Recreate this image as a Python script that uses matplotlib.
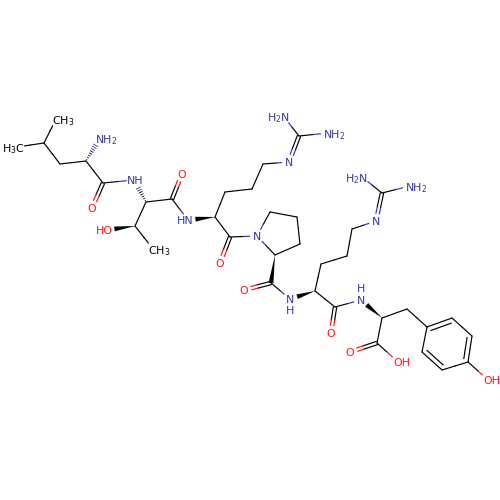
import matplotlib
matplotlib.use('Agg')
import matplotlib.pyplot as plt
import numpy as np

BLUE = '#3535a8'
RED = '#ff1010'

# atom positions in pixels
atoms = {
    'me1': (56, 119), 'me2': (17, 147), 'cg_l': (44, 143), 'cb_l': (60, 164),
    'ca_l': (86, 161), 'n_l': (100, 138), 'c_l': (103, 183), 'o_l': (92, 208),
    'n_t': (134, 180), 'ca_t': (146, 202), 'cb_t': (135, 226), 'o_t': (107, 230),
    'me3': (153, 249), 'c_t': (172, 199), 'o_t2': (182, 174),
    'n_r1': (188, 220), 'ca_r1': (215, 217), 'cb_r1': (225, 192), 'cg_r1': (252, 189),
    'cd_r1': (263, 164), 'ne_r1': (289, 162), 'cz_r1': (299, 136),
    'nh1_r1': (284, 117), 'nh2_r1': (328, 133), 'c_r1': (230, 237), 'o_r1': (220, 263),
    'n_p': (257, 236), 'cd_p': (270, 212), 'cg_p': (297, 217), 'cb_p': (300, 244),
    'ca_p': (275, 255), 'c_p': (271, 283), 'o_p': (244, 290),
    'n_r2': (290, 299), 'ca_r2': (315, 291), 'cb_r2': (321, 264), 'cg_r2': (347, 256),
    'cd_r2': (352, 229), 'ne_r2': (376, 221), 'cz_r2': (382, 193),
    'nh1_r2': (362, 177), 'nh2_r2': (410, 186), 'c_r2': (335, 307), 'o_r2': (331, 333),
    'n_y': (361, 300), 'ca_y': (382, 318), 'c_y': (377, 343), 'o_y': (350, 352),
    'oh_y': (398, 362), 'cb_y': (407, 309), 'r1': (427, 327), 'r2': (452, 318),
    'r3': (472, 336), 'r4': (468, 362), 'r5': (442, 370), 'r6': (422, 352),
    'oh_r': (488, 380),
}

single_bonds = [
    ('cg_l', 'me1'), ('cg_l', 'me2'), ('cg_l', 'cb_l'), ('cb_l', 'ca_l'), ('ca_l', 'c_l'),
    ('c_l', 'n_t'), ('ca_t', 'cb_t'), ('cb_t', 'me3'), ('ca_t', 'c_t'), ('c_t', 'n_r1'),
    ('ca_r1', 'cb_r1'), ('cb_r1', 'cg_r1'), ('cg_r1', 'cd_r1'), ('cd_r1', 'ne_r1'),
    ('cz_r1', 'nh1_r1'), ('cz_r1', 'nh2_r1'), ('ca_r1', 'c_r1'), ('c_r1', 'n_p'),
    ('n_p', 'cd_p'), ('cd_p', 'cg_p'), ('cg_p', 'cb_p'), ('cb_p', 'ca_p'), ('ca_p', 'n_p'),
    ('c_p', 'n_r2'), ('ca_r2', 'cb_r2'), ('cb_r2', 'cg_r2'), ('cg_r2', 'cd_r2'),
    ('cd_r2', 'ne_r2'), ('cz_r2', 'nh1_r2'), ('cz_r2', 'nh2_r2'), ('ca_r2', 'c_r2'),
    ('c_r2', 'n_y'), ('ca_y', 'c_y'), ('c_y', 'oh_y'), ('ca_y', 'cb_y'), ('cb_y', 'r1'),
    ('r2', 'r3'), ('r4', 'r5'), ('r6', 'r1'), ('r4', 'oh_r'),
]
double_bonds = [
    ('c_l', 'o_l'), ('c_t', 'o_t2'), ('c_r1', 'o_r1'), ('c_p', 'o_p'), ('c_r2', 'o_r2'),
    ('c_y', 'o_y'), ('ne_r1', 'cz_r1'), ('ne_r2', 'cz_r2'),
]
ring_doubles = [('r1', 'r2'), ('r3', 'r4'), ('r5', 'r6')]
wedges = [
    ('cb_t', 'o_t'), ('ca_r1', 'n_r1'), ('ca_p', 'c_p'), ('ca_r2', 'n_r2'), ('ca_y', 'n_y'),
]
hashes = [('ca_l', 'n_l'), ('ca_t', 'n_t')]

# text, x, y, horizontal alignment, colour
labels = [
    ('CH$_3$', 52, 119, 'left', 'black'), ('H$_3$C', 2, 147, 'left', 'black'),
    ('NH$_2$', 95, 138, 'left', BLUE), ('O', 92, 208, 'center', RED),
    ('NH', 127, 180, 'left', BLUE), ('HO', 96, 230, 'left', RED),
    ('CH$_3$', 148, 249, 'left', 'black'), ('O', 182, 174, 'center', RED),
    ('HN', 177, 220, 'left', BLUE), ('H$_2$N', 267, 116, 'left', BLUE),
    ('NH$_2$', 323, 133, 'left', BLUE), ('N', 289, 162, 'center', BLUE),
    ('O', 220, 263, 'center', RED), ('N', 257, 236, 'center', BLUE),
    ('O', 244, 290, 'center', RED), ('N', 290, 299, 'center', BLUE),
    ('H', 290, 310, 'center', BLUE), ('H$_2$N', 345, 177, 'left', BLUE),
    ('NH$_2$', 405, 186, 'left', BLUE), ('N', 376, 221, 'center', BLUE),
    ('O', 331, 333, 'center', RED), ('N', 361, 300, 'center', BLUE),
    ('H', 361, 288, 'center', BLUE), ('O', 350, 352, 'center', RED),
    ('OH', 393, 362, 'left', RED), ('OH', 483, 380, 'left', RED),
]


def atom_color(name):
    if name.startswith(('n_', 'ne_', 'nh')):
        return BLUE
    if name.startswith('o'):
        return RED
    return 'black'


def has_label(name):
    return atom_color(name) != 'black' or name.startswith('me')


def ends(a, b):
    # shorten the bond where an atom has a text label
    p = np.array(atoms[a], float)
    q = np.array(atoms[b], float)
    d = (q - p) / np.linalg.norm(q - p)
    start = p + d * 7.5 if has_label(a) else p
    stop = q - d * 7.5 if has_label(b) else q
    return p, q, start, stop, d


def draw_bond(ax, a, b, offset=0.0):
    p, q, start, stop, d = ends(a, b)
    n = np.array([-d[1], d[0]]) * offset
    mid = (p + q) / 2
    for s, e, col in [(start, mid, atom_color(a)), (mid, stop, atom_color(b))]:
        ax.plot([s[0] + n[0], e[0] + n[0]], [s[1] + n[1], e[1] + n[1]], color=col,
                lw=0.85, solid_capstyle='round')


def main():
    fig = plt.figure(figsize=(5, 5), dpi=100)
    ax = fig.add_axes([0, 0, 1, 1])
    ax.set_xlim(0, 500)
    ax.set_ylim(500, 0)
    ax.axis('off')

    for a, b in single_bonds:
        draw_bond(ax, a, b)
    for a, b in double_bonds:
        draw_bond(ax, a, b, 1.7)
        draw_bond(ax, a, b, -1.7)

    center = np.mean([atoms[k] for k in ['r1', 'r2', 'r3', 'r4', 'r5', 'r6']], axis=0)
    for a, b in ring_doubles:
        draw_bond(ax, a, b)
        p = np.array(atoms[a], float)
        q = np.array(atoms[b], float)
        # inner line, pulled towards the middle of the ring
        p2 = p + (center - p) * 0.2
        q2 = q + (center - q) * 0.2
        ax.plot([p2[0], q2[0]], [p2[1], q2[1]], color='black', lw=0.85)

    for a, b in wedges:
        p, q, start, stop, d = ends(a, b)
        n = np.array([-d[1], d[0]]) * 2.4
        ax.fill([p[0], stop[0] + n[0], stop[0] - n[0]], [p[1], stop[1] + n[1], stop[1] - n[1]],
                color='black', lw=0)

    for a, b in hashes:
        p, q, start, stop, d = ends(a, b)
        length = np.linalg.norm(stop - p)
        mid = np.linalg.norm(q - p) / 2
        perp = np.array([-d[1], d[0]])
        for t in np.arange(1.5, length, 2.4):
            c = p + d * t
            w = 2.6 * t / length
            col = 'black' if t < mid else atom_color(b)
            ax.plot([c[0] - perp[0] * w, c[0] + perp[0] * w],
                    [c[1] - perp[1] * w, c[1] + perp[1] * w], color=col, lw=0.6)

    for text, x, y, ha, col in labels:
        ax.text(x, y, text, ha=ha, va='center_baseline', color=col, fontsize=7.9,
                family='DejaVu Sans')

    fig.savefig('out.png', dpi=100, facecolor='white')


if __name__ == '__main__':
    main()
